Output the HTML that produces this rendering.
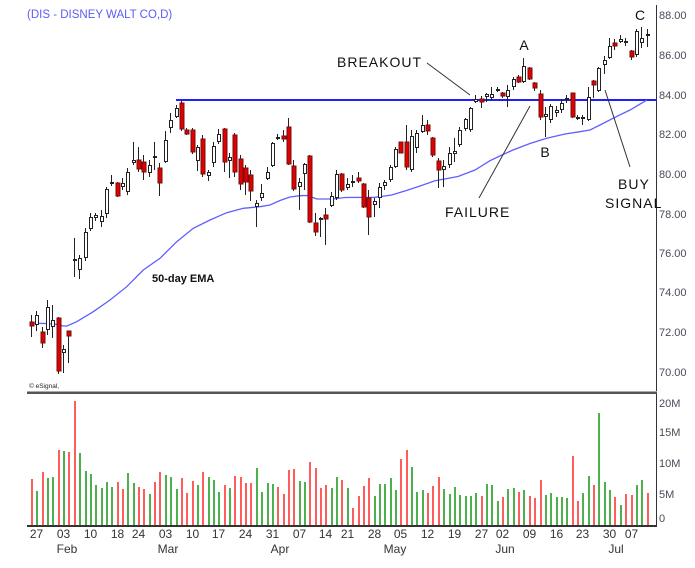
<!DOCTYPE html>
<html><head><meta charset="utf-8"><style>
html,body{margin:0;padding:0;background:#fff;}
svg{display:block;font-family:"Liberation Sans",Arial,sans-serif;}
</style></head><body>
<svg width="695" height="568" viewBox="0 0 695 568" xmlns="http://www.w3.org/2000/svg">
<rect width="695" height="568" fill="#fff"/>
<text x="27" y="18" font-size="11.5" fill="#5c5cf5">(DIS - DISNEY WALT CO,D)</text>

<!-- axes -->
<rect x="656" y="5" width="1" height="521" fill="#333"/>
<rect x="27" y="391" width="630" height="1" fill="#aaa"/>
<rect x="27" y="392" width="630" height="2" fill="#555"/>
<rect x="27" y="525" width="630" height="2" fill="#333"/>

<g font-size="11" fill="#4a4a5a">
<text x="659" y="19">88.00</text>
<text x="659" y="59">86.00</text>
<text x="659" y="99">84.00</text>
<text x="659" y="138">82.00</text>
<text x="659" y="178">80.00</text>
<text x="659" y="218">78.00</text>
<text x="659" y="257">76.00</text>
<text x="659" y="296">74.00</text>
<text x="659" y="336">72.00</text>
<text x="659" y="376">70.00</text>
<text x="659" y="407">20M</text>
<text x="659" y="436">15M</text>
<text x="659" y="467">10M</text>
<text x="659" y="498">5M</text>
<text x="659" y="522">0</text>
</g>

<g font-size="12" fill="#333" text-anchor="middle">
<text x="36.5" y="538">27</text>
<text x="63.5" y="538">03</text>
<text x="90.5" y="538">10</text>
<text x="117.5" y="538">18</text>
<text x="138.5" y="538">24</text>
<text x="165.5" y="538">03</text>
<text x="192.5" y="538">10</text>
<text x="218.5" y="538">17</text>
<text x="245.5" y="538">24</text>
<text x="272.5" y="538">31</text>
<text x="299.5" y="538">07</text>
<text x="325.5" y="538">14</text>
<text x="347.5" y="538">21</text>
<text x="374.5" y="538">28</text>
<text x="400.5" y="538">05</text>
<text x="427.5" y="538">12</text>
<text x="454.5" y="538">19</text>
<text x="481.5" y="538">27</text>
<text x="502.5" y="538">02</text>
<text x="529.5" y="538">09</text>
<text x="556.5" y="538">16</text>
<text x="582.5" y="538">23</text>
<text x="609.5" y="538">30</text>
<text x="631.5" y="538">07</text>
<text x="67" y="553">Feb</text>
<text x="168" y="553">Mar</text>
<text x="280" y="553">Apr</text>
<text x="395" y="553">May</text>
<text x="505" y="553">Jun</text>
<text x="616" y="553">Jul</text>
</g>

<text x="29" y="388" font-size="6.5" fill="#222">© eSignal,</text>

<!-- resistance line + EMA -->
<rect x="176" y="99" width="481" height="2" fill="#2020ff"/>
<polyline fill="none" stroke="#5f5fff" stroke-width="1.3" points="31,323 45,323.5 58,324.5 63,326 67,326 76.7,321.7 93.3,311.7 110,300 126.7,286.7 143.3,270 160,258.3 176.7,241.7 193.3,228.3 210,220 226.7,212.7 243.3,208.3 260,206.7 270,205 280,200.5 290,197 300,195.7 308,195.5 316.7,199 333,199 345,197.5 375,197.3 391.7,195 408,190 420,186 435,180.7 458,176.5 475,170 490,160.7 502,155 513,150 530,143.5 546.7,138.3 565,134 580,131.7 590,130 600,125 613,118.3 630,110 647,100"/>

<!-- wicks -->
<path shape-rendering="crispEdges" stroke="#222" stroke-width="1" fill="none" d="M31.5 315v22M36.5 311v20M42.5 327v21M47.5 300v35M52.5 305v33M58.5 317v57M63.5 345v28M68.5 331v32M74.5 238v39M79.5 255v24M85.5 228v33M90.5 213v18M95.5 213v8M101.5 210v17M106.5 187v31M111.5 175v11M117.5 182v15M122.5 178v12M127.5 168v27M133.5 142v23M138.5 147v25M143.5 155v25M149.5 160v17M154.5 142v28M159.5 163v33M165.5 131v32M170.5 113v20M176.5 105v13M181.5 101v30M186.5 128v7M192.5 128v26M197.5 145v26M202.5 135v42M208.5 170v11M213.5 142v25M218.5 129v15M224.5 128v44M229.5 153v25M234.5 133v44M240.5 155v35M245.5 165v30M250.5 170v31M256.5 200v27M261.5 184v17M267.5 167v13M272.5 142v25M277.5 134v6M283.5 130v12M288.5 118v47M293.5 160v31M299.5 178v32M304.5 163v27M309.5 155v68M315.5 213v23M320.5 217v20M325.5 208v37M331.5 192v15M336.5 170v30M341.5 173v19M347.5 178v12M352.5 175v12M358.5 172v11M363.5 183v25M368.5 190v45M374.5 198v19M379.5 183v25M384.5 180v10M390.5 165v17M395.5 147v21M400.5 142v11M406.5 125v45M411.5 130v42M416.5 130v23M422.5 115v18M427.5 120v15M432.5 137v20M438.5 158v30M443.5 160v27M449.5 147v21M454.5 138v24M459.5 127v20M465.5 118v13M470.5 107v25M475.5 95v8M481.5 96v12M486.5 93v9M491.5 87v13M497.5 87v5M502.5 92v6M507.5 85v22M513.5 77v13M518.5 75v8M523.5 58v25M529.5 67v13M534.5 82v9M540.5 90v30M545.5 107v30M550.5 104v19M556.5 106v11M561.5 99v14M566.5 95v8M572.5 93v25M577.5 115v5M582.5 115v10M588.5 87v34M593.5 80v18M598.5 67v25M604.5 56v18M609.5 38v21M614.5 39v11M620.5 35v8M625.5 38v8M631.5 50v10M636.5 29v28M641.5 27v21M647.5 29v18"/>

<!-- white candle outlines + dojis -->
<g fill="#222" shape-rendering="crispEdges">
<rect x="35" y="315" width="4" height="10"/><rect x="46" y="307" width="4" height="23"/><rect x="51" y="320" width="4" height="7"/><rect x="62" y="349" width="4" height="4"/><rect x="73" y="259" width="4" height="2"/><rect x="78" y="258" width="4" height="12"/><rect x="84" y="232" width="4" height="26"/><rect x="89" y="217" width="4" height="12"/><rect x="94" y="215" width="4" height="3"/><rect x="100" y="216" width="4" height="6"/><rect x="105" y="189" width="4" height="25"/><rect x="110" y="182" width="4" height="2"/><rect x="121" y="183" width="4" height="4"/><rect x="126" y="172" width="4" height="20"/><rect x="132" y="160" width="4" height="3"/><rect x="148" y="165" width="4" height="8"/><rect x="153" y="156" width="4" height="2"/><rect x="164" y="140" width="4" height="22"/><rect x="169" y="120" width="4" height="8"/><rect x="175" y="108" width="4" height="9"/><rect x="196" y="147" width="4" height="14"/><rect x="207" y="172" width="4" height="4"/><rect x="212" y="146" width="4" height="17"/><rect x="217" y="134" width="4" height="8"/><rect x="228" y="157" width="4" height="4"/><rect x="255" y="203" width="4" height="4"/><rect x="260" y="193" width="4" height="5"/><rect x="266" y="172" width="4" height="7"/><rect x="271" y="143" width="4" height="23"/><rect x="276" y="137" width="4" height="2"/><rect x="298" y="182" width="4" height="5"/><rect x="303" y="164" width="4" height="10"/><rect x="319" y="218" width="4" height="2"/><rect x="330" y="196" width="4" height="10"/><rect x="335" y="174" width="4" height="24"/><rect x="346" y="184" width="4" height="4"/><rect x="351" y="181" width="4" height="2"/><rect x="373" y="201" width="4" height="4"/><rect x="378" y="187" width="4" height="11"/><rect x="383" y="182" width="4" height="4"/><rect x="389" y="167" width="4" height="13"/><rect x="394" y="149" width="4" height="18"/><rect x="410" y="136" width="4" height="34"/><rect x="415" y="133" width="4" height="15"/><rect x="421" y="125" width="4" height="7"/><rect x="442" y="166" width="4" height="4"/><rect x="448" y="153" width="4" height="12"/><rect x="453" y="151" width="4" height="3"/><rect x="458" y="130" width="4" height="15"/><rect x="464" y="119" width="4" height="10"/><rect x="469" y="108" width="4" height="22"/><rect x="474" y="99" width="4" height="3"/><rect x="485" y="94" width="4" height="3"/><rect x="490" y="94" width="4" height="4"/><rect x="496" y="89" width="4" height="2"/><rect x="506" y="90" width="4" height="7"/><rect x="512" y="79" width="4" height="8"/><rect x="522" y="66" width="4" height="16"/><rect x="544" y="114" width="4" height="3"/><rect x="549" y="106" width="4" height="14"/><rect x="555" y="110" width="4" height="3"/><rect x="560" y="103" width="4" height="7"/><rect x="565" y="98" width="4" height="2"/><rect x="576" y="117" width="4" height="2"/><rect x="581" y="117" width="4" height="2"/><rect x="587" y="97" width="4" height="23"/><rect x="597" y="68" width="4" height="23"/><rect x="603" y="60" width="4" height="5"/><rect x="608" y="46" width="4" height="12"/><rect x="619" y="39" width="4" height="3"/><rect x="624" y="41" width="4" height="2"/><rect x="635" y="31" width="4" height="24"/><rect x="640" y="38" width="4" height="5"/><rect x="646" y="34" width="4" height="2"/>
</g>
<g fill="#fff" shape-rendering="crispEdges">
<rect x="36" y="316" width="2" height="8"/><rect x="47" y="308" width="2" height="21"/><rect x="52" y="321" width="2" height="5"/><rect x="63" y="350" width="2" height="2"/><rect x="79" y="259" width="2" height="10"/><rect x="85" y="233" width="2" height="24"/><rect x="90" y="218" width="2" height="10"/><rect x="95" y="216" width="2" height="1"/><rect x="101" y="217" width="2" height="4"/><rect x="106" y="190" width="2" height="23"/><rect x="122" y="184" width="2" height="2"/><rect x="127" y="173" width="2" height="18"/><rect x="133" y="161" width="2" height="1"/><rect x="149" y="166" width="2" height="6"/><rect x="165" y="141" width="2" height="20"/><rect x="170" y="121" width="2" height="6"/><rect x="176" y="109" width="2" height="7"/><rect x="197" y="148" width="2" height="12"/><rect x="208" y="173" width="2" height="2"/><rect x="213" y="147" width="2" height="15"/><rect x="218" y="135" width="2" height="6"/><rect x="229" y="158" width="2" height="2"/><rect x="256" y="204" width="2" height="2"/><rect x="261" y="194" width="2" height="3"/><rect x="267" y="173" width="2" height="5"/><rect x="272" y="144" width="2" height="21"/><rect x="299" y="183" width="2" height="3"/><rect x="304" y="165" width="2" height="8"/><rect x="331" y="197" width="2" height="8"/><rect x="336" y="175" width="2" height="22"/><rect x="347" y="185" width="2" height="2"/><rect x="374" y="202" width="2" height="2"/><rect x="379" y="188" width="2" height="9"/><rect x="384" y="183" width="2" height="2"/><rect x="390" y="168" width="2" height="11"/><rect x="395" y="150" width="2" height="16"/><rect x="411" y="137" width="2" height="32"/><rect x="416" y="134" width="2" height="13"/><rect x="422" y="126" width="2" height="5"/><rect x="443" y="167" width="2" height="2"/><rect x="449" y="154" width="2" height="10"/><rect x="454" y="152" width="2" height="1"/><rect x="459" y="131" width="2" height="13"/><rect x="465" y="120" width="2" height="8"/><rect x="470" y="109" width="2" height="20"/><rect x="475" y="100" width="2" height="1"/><rect x="486" y="95" width="2" height="1"/><rect x="491" y="95" width="2" height="2"/><rect x="507" y="91" width="2" height="5"/><rect x="513" y="80" width="2" height="6"/><rect x="523" y="67" width="2" height="14"/><rect x="545" y="115" width="2" height="1"/><rect x="550" y="107" width="2" height="12"/><rect x="556" y="111" width="2" height="1"/><rect x="561" y="104" width="2" height="5"/><rect x="588" y="98" width="2" height="21"/><rect x="598" y="69" width="2" height="21"/><rect x="604" y="61" width="2" height="3"/><rect x="609" y="47" width="2" height="10"/><rect x="620" y="40" width="2" height="1"/><rect x="636" y="32" width="2" height="22"/><rect x="641" y="39" width="2" height="3"/>
</g>
<!-- red candle bodies -->
<g fill="#e00000" stroke="#701010" stroke-width="0.6" shape-rendering="crispEdges">
<rect x="30" y="322" width="4" height="4"/><rect x="41" y="332" width="4" height="11"/><rect x="57" y="318" width="4" height="53"/><rect x="67" y="331" width="4" height="5"/><rect x="116" y="183" width="4" height="13"/><rect x="137" y="160" width="4" height="9"/><rect x="142" y="162" width="4" height="10"/><rect x="158" y="168" width="4" height="15"/><rect x="180" y="103" width="4" height="26"/><rect x="185" y="130" width="4" height="4"/><rect x="191" y="130" width="4" height="22"/><rect x="201" y="139" width="4" height="35"/><rect x="223" y="129" width="4" height="33"/><rect x="233" y="135" width="4" height="37"/><rect x="239" y="159" width="4" height="25"/><rect x="244" y="168" width="4" height="14"/><rect x="249" y="175" width="4" height="16"/><rect x="282" y="136" width="4" height="3"/><rect x="287" y="127" width="4" height="37"/><rect x="292" y="166" width="4" height="23"/><rect x="308" y="156" width="4" height="66"/><rect x="314" y="223" width="4" height="9"/><rect x="324" y="215" width="4" height="4"/><rect x="340" y="174" width="4" height="16"/><rect x="357" y="178" width="4" height="3"/><rect x="362" y="184" width="4" height="23"/><rect x="367" y="198" width="4" height="19"/><rect x="399" y="142" width="4" height="11"/><rect x="405" y="142" width="4" height="25"/><rect x="426" y="125" width="4" height="6"/><rect x="431" y="138" width="4" height="17"/><rect x="437" y="161" width="4" height="9"/><rect x="480" y="99" width="4" height="3"/><rect x="501" y="93" width="4" height="3"/><rect x="517" y="77" width="4" height="5"/><rect x="528" y="68" width="4" height="11"/><rect x="533" y="83" width="4" height="5"/><rect x="539" y="94" width="4" height="23"/><rect x="571" y="93" width="4" height="24"/><rect x="592" y="81" width="4" height="4"/><rect x="613" y="43" width="4" height="3"/><rect x="630" y="51" width="4" height="6"/>
</g>

<!-- volume -->
<g fill="#ff5c5c" shape-rendering="crispEdges">
<rect x="31" y="479" width="2" height="46"/><rect x="42" y="472" width="2" height="53"/><rect x="58" y="450" width="2" height="75"/><rect x="68" y="452" width="2" height="73"/><rect x="74" y="401" width="2" height="124"/><rect x="117" y="482" width="2" height="43"/><rect x="122" y="489" width="2" height="36"/><rect x="138" y="487" width="2" height="38"/><rect x="143" y="489" width="2" height="36"/><rect x="154" y="482" width="2" height="43"/><rect x="159" y="472" width="2" height="53"/><rect x="181" y="478" width="2" height="47"/><rect x="186" y="493" width="2" height="32"/><rect x="192" y="481" width="2" height="44"/><rect x="202" y="472" width="2" height="53"/><rect x="224" y="485" width="2" height="40"/><rect x="234" y="476" width="2" height="49"/><rect x="240" y="477" width="2" height="48"/><rect x="245" y="483" width="2" height="42"/><rect x="250" y="483" width="2" height="42"/><rect x="277" y="487" width="2" height="38"/><rect x="283" y="494" width="2" height="31"/><rect x="288" y="470" width="2" height="55"/><rect x="293" y="469" width="2" height="56"/><rect x="309" y="462" width="2" height="63"/><rect x="315" y="468" width="2" height="57"/><rect x="320" y="488" width="2" height="37"/><rect x="325" y="485" width="2" height="40"/><rect x="341" y="480" width="2" height="45"/><rect x="352" y="508" width="2" height="17"/><rect x="358" y="496" width="2" height="29"/><rect x="363" y="486" width="2" height="39"/><rect x="368" y="478" width="2" height="47"/><rect x="400" y="459" width="2" height="66"/><rect x="406" y="450" width="2" height="75"/><rect x="427" y="493" width="2" height="32"/><rect x="432" y="486" width="2" height="39"/><rect x="438" y="477" width="2" height="48"/><rect x="481" y="496" width="2" height="29"/><rect x="502" y="497" width="2" height="28"/><rect x="518" y="492" width="2" height="33"/><rect x="529" y="496" width="2" height="29"/><rect x="534" y="498" width="2" height="27"/><rect x="540" y="480" width="2" height="45"/><rect x="572" y="456" width="2" height="69"/><rect x="577" y="501" width="2" height="24"/><rect x="593" y="485" width="2" height="40"/><rect x="614" y="497" width="2" height="28"/><rect x="625" y="494" width="2" height="31"/><rect x="631" y="495" width="2" height="30"/><rect x="647" y="493" width="2" height="32"/>
</g>
<g fill="#4cb04c" shape-rendering="crispEdges">
<rect x="36" y="491" width="2" height="34"/><rect x="47" y="478" width="2" height="47"/><rect x="52" y="477" width="2" height="48"/><rect x="63" y="451" width="2" height="74"/><rect x="79" y="453" width="2" height="72"/><rect x="85" y="471" width="2" height="54"/><rect x="90" y="474" width="2" height="51"/><rect x="95" y="485" width="2" height="40"/><rect x="101" y="488" width="2" height="37"/><rect x="106" y="482" width="2" height="43"/><rect x="111" y="487" width="2" height="38"/><rect x="127" y="473" width="2" height="52"/><rect x="133" y="483" width="2" height="42"/><rect x="149" y="494" width="2" height="31"/><rect x="165" y="475" width="2" height="50"/><rect x="170" y="477" width="2" height="48"/><rect x="176" y="489" width="2" height="36"/><rect x="197" y="485" width="2" height="40"/><rect x="208" y="477" width="2" height="48"/><rect x="213" y="480" width="2" height="45"/><rect x="218" y="492" width="2" height="33"/><rect x="229" y="488" width="2" height="37"/><rect x="256" y="468" width="2" height="57"/><rect x="261" y="492" width="2" height="33"/><rect x="267" y="483" width="2" height="42"/><rect x="272" y="484" width="2" height="41"/><rect x="299" y="481" width="2" height="44"/><rect x="304" y="482" width="2" height="43"/><rect x="331" y="488" width="2" height="37"/><rect x="336" y="477" width="2" height="48"/><rect x="347" y="488" width="2" height="37"/><rect x="374" y="496" width="2" height="29"/><rect x="379" y="484" width="2" height="41"/><rect x="384" y="484" width="2" height="41"/><rect x="390" y="478" width="2" height="47"/><rect x="395" y="490" width="2" height="35"/><rect x="411" y="467" width="2" height="58"/><rect x="416" y="492" width="2" height="33"/><rect x="422" y="490" width="2" height="35"/><rect x="443" y="489" width="2" height="36"/><rect x="449" y="494" width="2" height="31"/><rect x="454" y="487" width="2" height="38"/><rect x="459" y="495" width="2" height="30"/><rect x="465" y="496" width="2" height="29"/><rect x="470" y="496" width="2" height="29"/><rect x="475" y="493" width="2" height="32"/><rect x="486" y="484" width="2" height="41"/><rect x="491" y="485" width="2" height="40"/><rect x="497" y="501" width="2" height="24"/><rect x="507" y="489" width="2" height="36"/><rect x="513" y="488" width="2" height="37"/><rect x="523" y="490" width="2" height="35"/><rect x="545" y="495" width="2" height="30"/><rect x="550" y="493" width="2" height="32"/><rect x="556" y="497" width="2" height="28"/><rect x="561" y="497" width="2" height="28"/><rect x="566" y="498" width="2" height="27"/><rect x="582" y="493" width="2" height="32"/><rect x="588" y="476" width="2" height="49"/><rect x="598" y="413" width="2" height="112"/><rect x="604" y="482" width="2" height="43"/><rect x="609" y="490" width="2" height="35"/><rect x="620" y="505" width="2" height="20"/><rect x="636" y="485" width="2" height="40"/><rect x="641" y="480" width="2" height="45"/>
</g>

<!-- annotations -->
<g stroke="#333" stroke-width="1" fill="none">
<line x1="427" y1="63" x2="470" y2="95"/>
<line x1="530" y1="106" x2="479" y2="198"/>
<line x1="605" y1="90" x2="630" y2="167"/>
</g>
<text x="152" y="282" font-size="11" font-weight="bold" fill="#111">50-day EMA</text>
<g font-size="14" fill="#111" letter-spacing="1">
<text x="337" y="67">BREAKOUT</text>
<text x="445" y="217">FAILURE</text>
<text x="618" y="189">BUY</text>
<text x="605" y="208">SIGNAL</text>
</g>
<g font-size="14" fill="#111" text-anchor="middle">
<text x="524" y="50">A</text>
<text x="545" y="157">B</text>
<text x="640" y="20">C</text>
</g>
</svg>
</body></html>
